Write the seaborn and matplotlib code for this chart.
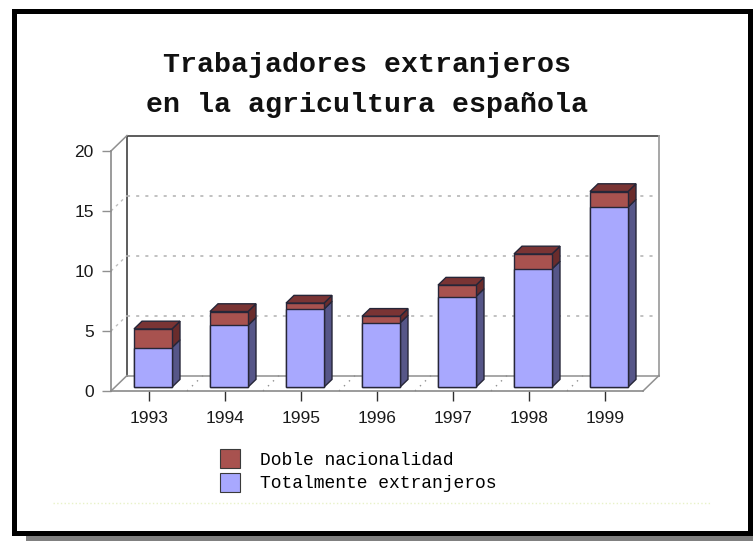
import matplotlib
matplotlib.use("Agg")
import matplotlib.pyplot as plt
import seaborn as sns
import pandas as pd
from matplotlib.patches import Polygon, Rectangle, Patch
from matplotlib.lines import Line2D
from matplotlib.font_manager import FontProperties

# ---- data ----
years = ["1993", "1994", "1995", "1996", "1997", "1998", "1999"]
totalmente = [3.3, 5.15, 6.5, 5.35, 7.55, 9.85, 15.0]
doble = [1.55, 1.15, 0.5, 0.55, 0.95, 1.25, 1.3]
yticks = [0, 5, 10, 15, 20]
title_lines = ["Trabajadores extranjeros", "en la agricultura española"]
legend_labels = ["Doble nacionalidad", "Totalmente extranjeros"]

# ---- styling ----
W, H = 753, 541
RED = "#a8524f"
RED_TOP = "#7a3434"
RED_SIDE = "#6a2c2c"
BLUE = "#a8a8fe"
BLUE_SIDE = "#565688"
EDGE = "#262638"
DX, DY = 0.2105, 1.29   # depth vector of the 3D box in data units


def fx(px):
    return px / W


def fy(py):
    return 1 - py / H


fig = plt.figure(figsize=(W / 100, H / 100), dpi=100)
fig.patch.set_facecolor("white")
ax = fig.add_axes([fx(111), fy(391), fx(643) - fx(111), fy(151) - fy(391)])
ax.set_facecolor("none")

df = pd.DataFrame({"year": years,
                   "blue": totalmente,
                   "total": [b + r for b, r in zip(totalmente, doble)]})

sns.barplot(data=df, x="year", y="total", color=RED, width=0.5, saturation=1,
            edgecolor=EDGE, linewidth=1, errorbar=None, ax=ax, zorder=4)
sns.barplot(data=df, x="year", y="blue", color=BLUE, width=0.5, saturation=1,
            edgecolor=EDGE, linewidth=1, errorbar=None, ax=ax, zorder=5)

n = len(years)
reds = ax.patches[:n]
blues = ax.patches[n:2 * n]
for p in reds + blues:
    p.set_x(p.get_x() + 0.25 * DX)
    p.set_y(p.get_y() + 0.25 * DY)

dx, dy = 0.5 * DX, 0.5 * DY
for pr, pb in zip(reds, blues):
    x0, w, base = pr.get_x(), pr.get_width(), pr.get_y()
    ht, hb = pr.get_height(), pb.get_height()
    side_b = [(x0 + w, base), (x0 + w + dx, base + dy),
              (x0 + w + dx, base + hb + dy), (x0 + w, base + hb)]
    side_r = [(x0 + w, base + hb), (x0 + w + dx, base + hb + dy),
              (x0 + w + dx, base + ht + dy), (x0 + w, base + ht)]
    top = [(x0, base + ht), (x0 + dx, base + ht + dy),
           (x0 + w + dx, base + ht + dy), (x0 + w, base + ht)]
    ax.add_patch(Polygon(side_b, closed=True, fc=BLUE_SIDE, ec=EDGE, lw=1, zorder=3))
    ax.add_patch(Polygon(side_r, closed=True, fc=RED_SIDE, ec=EDGE, lw=1, zorder=3))
    ax.add_patch(Polygon(top, closed=True, fc=RED_TOP, ec=EDGE, lw=1, zorder=3))

xl, xr = -0.5, n - 0.5
ax.set_xlim(xl, xr)
ax.set_ylim(0, 20)

# back wall
ax.plot([xl + DX, xl + DX, xr + DX], [DY, 20 + DY, 20 + DY], color="#303030", lw=1.1,
        clip_on=False, zorder=1)
ax.plot([xr + DX, xr + DX], [DY, 20 + DY], color="#a0a0a0", lw=1.3, clip_on=False, zorder=1)
ax.plot([xl + DX, xr + DX], [DY, DY], color="#909090", lw=1.1, clip_on=False, zorder=1)
# diagonals
for (x, y) in [(xl, 20), (xl, 0), (xr, 0)]:
    ax.plot([x, x + DX], [y, y + DY], color="#909090", lw=1.1, clip_on=False, zorder=1)
# gridlines
for v in yticks[1:-1]:
    ax.plot([xl + DX, xr + DX], [v + DY, v + DY], color="#b0b0b0", lw=1.1,
            ls=(0, (2, 4)), clip_on=False, zorder=1)
    ax.plot([xl, xl + DX], [v, v + DY], color="#c0c0c0", lw=1.0,
            ls=(0, (2, 3)), clip_on=False, zorder=1)
# floor dotted depth lines
for k in range(n - 1):
    x = k + 0.5
    ax.plot([x, x + DX], [0, DY], color="#909090", lw=1.0, ls=(0, (1, 4)),
            clip_on=False, zorder=1)

for s in ["top", "right"]:
    ax.spines[s].set_visible(False)
for s in ["left", "bottom"]:
    ax.spines[s].set_color("#8a8a8a")
    ax.spines[s].set_linewidth(1.2)

ax.set_yticks(yticks)
ax.set_yticklabels([str(t) for t in yticks])
ax.tick_params(axis="y", length=6.5, width=1, color="#909090", pad=6,
               labelsize=12.5, labelcolor="#1a1a1a")
ax.tick_params(axis="x", length=7.5, width=1, color="#303030", pad=7,
               labelsize=12.5, labelcolor="#1a1a1a")
for lab in ax.get_xticklabels() + ax.get_yticklabels():
    lab.set_family("Liberation Sans")
ax.set_xlabel("")
ax.set_ylabel("")

# title
for txt, base in zip(title_lines, [72, 112]):
    fig.text(fx(367), fy(base), txt, ha="center", va="baseline",
             family="Liberation Mono", weight="bold", size=20.3, color="#111111")

# legend
handles = [Patch(fc=RED, ec="#3a3a3a", lw=0.8), Patch(fc=BLUE, ec="#3a3a3a", lw=0.8)]
fig.legend(handles=handles, labels=legend_labels,
           prop=FontProperties(family="Liberation Mono", size=13),
           frameon=False, loc="upper left", bbox_to_anchor=(fx(220), fy(449)),
           borderpad=0, borderaxespad=0, handlelength=1.1, handleheight=1.25,
           handletextpad=1.1, labelspacing=0.22)

# faint line, frame and shadow
fig.add_artist(Line2D([fx(53), fx(710)], [fy(503), fy(503)], color="#e8f2c8",
                      lw=1, ls=":", transform=fig.transFigure))
fig.add_artist(Rectangle((fx(26), fy(541)), fx(753) - fx(26), fy(535) - fy(541),
                         transform=fig.transFigure, fc="#808080", ec="none"))
fig.add_artist(Rectangle((fx(752), fy(541)), fx(753) - fx(752), fy(22) - fy(541),
                         transform=fig.transFigure, fc="#808080", ec="none"))
fig.add_artist(Rectangle((fx(13.5), fy(532.5)), fx(749.5) - fx(13.5), fy(10.5) - fy(532.5),
                         transform=fig.transFigure, fill=False, ec="black", lw=5 * 0.72))

fig.savefig("out.png", dpi=100)
